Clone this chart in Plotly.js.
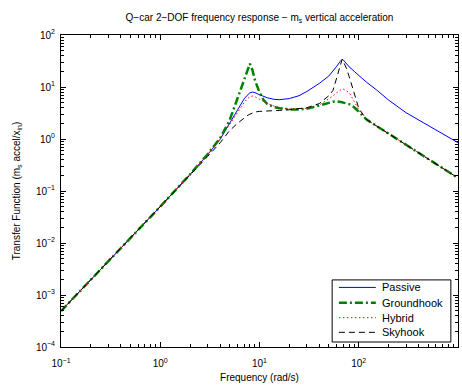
<!DOCTYPE html>
<html>
<head>
<meta charset="utf-8">
<script src="https://cdn.plot.ly/plotly-3.0.1.min.js"></script>
<style>html,body{margin:0;padding:0;background:#fff;}#chart{width:462px;height:385px;}</style>
</head>
<body>
<div id="chart"></div>
<script>
const freq = [0.1, 0.2, 0.5, 1, 2, 3, 4, 5, 6, 7, 7.5, 8, 8.5, 9, 10, 11, 12, 14, 16, 20, 25, 30, 40, 50, 55, 60, 65, 68, 70, 75, 80, 90, 100, 120, 150, 200, 300, 500, 700, 1000];
const passive = [4.9e-4, 1.96e-3, 0.0123, 0.050, 0.21, 0.50, 0.98, 2.0, 3.7, 5.9, 6.9, 7.7, 8.0, 7.8, 7.1, 6.5, 6.2, 5.8, 5.7, 6.0, 6.8, 8.2, 11.7, 16.3, 20, 25, 31, 34, 33, 28, 24.5, 20, 16.6, 12.3, 8.9, 5.6, 3.2, 1.8, 1.26, 0.85];
const groundhook = [4.9e-4, 1.96e-3, 0.0123, 0.050, 0.21, 0.51, 1.03, 2.3, 6.0, 14, 21, 28, 21, 13.5, 7.9, 5.6, 4.7, 4.1, 3.9, 3.7, 3.7, 3.8, 4.4, 5.0, 5.2, 5.3, 5.25, 5.1, 5.0, 4.8, 4.7, 4.07, 3.3, 2.36, 1.80, 1.26, 0.77, 0.41, 0.275, 0.178];
const hybrid = [4.9e-4, 1.96e-3, 0.0123, 0.050, 0.21, 0.50, 1.0, 1.9, 3.3, 5.0, 5.9, 6.5, 6.7, 6.5, 5.8, 5.2, 4.8, 4.3, 4.0, 3.8, 3.8, 3.9, 4.5, 5.9, 6.7, 7.8, 8.8, 9.2, 9.1, 8.5, 7.8, 5.3, 3.6, 2.36, 1.80, 1.26, 0.77, 0.41, 0.275, 0.178];
const skyhook = [4.9e-4, 1.96e-3, 0.0123, 0.049, 0.20, 0.46, 0.84, 1.45, 2.0, 2.55, 2.8, 3.0, 3.15, 3.3, 3.4, 3.45, 3.5, 3.5, 3.55, 3.65, 3.8, 4.0, 4.8, 6.8, 8.6, 15, 27, 34, 31, 23, 16, 7.4, 3.9, 2.36, 1.80, 1.26, 0.77, 0.41, 0.275, 0.178];

const seriesNames = ['Passive', 'Groundhook', 'Hybrid', 'Skyhook'];
const xTickVals = [0.1, 1, 10, 100, 1000];
const xTickText = ['10<sup>−1</sup>', '10<sup>0</sup>', '10<sup>1</sup>', '10<sup>2</sup>', '10<sup>3</sup>'];
const yTickVals = [1e-4, 1e-3, 1e-2, 1e-1, 1, 10, 100];
const yTickText = ['10<sup>−4</sup>', '10<sup>−3</sup>', '10<sup>−2</sup>', '10<sup>−1</sup>', '10<sup>0</sup>', '10<sup>1</sup>', '10<sup>2</sup>'];

function minorVals(lo, hi) {
  const out = [];
  for (let e = lo; e < hi; e++) for (let m = 2; m <= 9; m++) out.push(m * Math.pow(10, e));
  return out;
}

const styles = [
  {color: '#0000ff', width: 1, dash: 'solid'},
  {color: '#008000', width: 2.5, dash: '8px,3px,2px,3px'},
  {color: '#ff0000', width: 1, dash: '1.5px,2.5px'},
  {color: '#000000', width: 1, dash: '6px,4px'}
];
const ys = [passive, groundhook, hybrid, skyhook];
const traces = ys.map((y, i) => ({
  x: freq, y: y, type: 'scatter', mode: 'lines', name: seriesNames[i],
  line: styles[i]
}));

const font = {family: 'Liberation Sans, Arial, sans-serif', size: 10, color: '#000'};

// custom legend (box, line samples, labels) in plot-area fractions
const legBox = {x0: 0.683, x1: 0.982, y0: 0.016, y1: 0.215};
const legRowY = [0.191, 0.142, 0.094, 0.047];
const shapes = [{type: 'rect', xref: 'paper', yref: 'paper', x0: legBox.x0, x1: legBox.x1, y0: legBox.y0, y1: legBox.y1,
  line: {color: '#000', width: 1}, fillcolor: '#fff', layer: 'above'}];
const annotations = [];
seriesNames.forEach((n, i) => {
  shapes.push({type: 'line', xref: 'paper', yref: 'paper', x0: 0.700, x1: 0.793, y0: legRowY[i], y1: legRowY[i],
    line: {color: styles[i].color, width: styles[i].width, dash: styles[i].dash}, layer: 'above'});
  annotations.push({xref: 'paper', yref: 'paper', x: 0.804, y: legRowY[i], xanchor: 'left', yanchor: 'middle',
    text: n, showarrow: false, font: {family: font.family, size: 11, color: '#000'}});
});

const axisBase = {
  type: 'log', showgrid: false, zeroline: false, showline: true, linecolor: '#000', linewidth: 1,
  mirror: 'ticks', ticks: 'inside', ticklen: 5, tickcolor: '#000', tickwidth: 1,
  tickfont: font, tickmode: 'array'
};
const layout = {
  width: 462, height: 385,
  margin: {l: 61, r: 4, t: 35, b: 38},
  paper_bgcolor: '#fff', plot_bgcolor: '#fff',
  font: font,
  showlegend: false,
  shapes: shapes,
  annotations: annotations,
  title: {text: 'Q−car 2−DOF frequency response − m<sub>s</sub> vertical acceleration', font: {family: font.family, size: 10, color: '#000'}, x: 0.5617, xanchor: 'center', y: 0.955, yanchor: 'middle'},
  xaxis: Object.assign({}, axisBase, {
    range: [-1, 3], tickvals: xTickVals, ticktext: xTickText, ticklabelstandoff: 7,
    minor: {tickmode: 'array', tickvals: minorVals(-1, 3), ticks: 'inside', ticklen: 3, tickcolor: '#000', showgrid: false},
    title: {text: 'Frequency (rad/s)', font: font, standoff: 5}
  }),
  yaxis: Object.assign({}, axisBase, {
    range: [-4, 2], tickvals: yTickVals, ticktext: yTickText, ticklabelstandoff: 3,
    minor: {tickmode: 'array', tickvals: minorVals(-4, 2), ticks: 'inside', ticklen: 3, tickcolor: '#000', showgrid: false},
    title: {text: 'Transfer Function (m<sub>s</sub> accel/x<sub>in</sub>)', font: font, standoff: 13}
  })
};
Plotly.newPlot('chart', traces, layout, {staticPlot: true, displayModeBar: false});
</script>
</body>
</html>
